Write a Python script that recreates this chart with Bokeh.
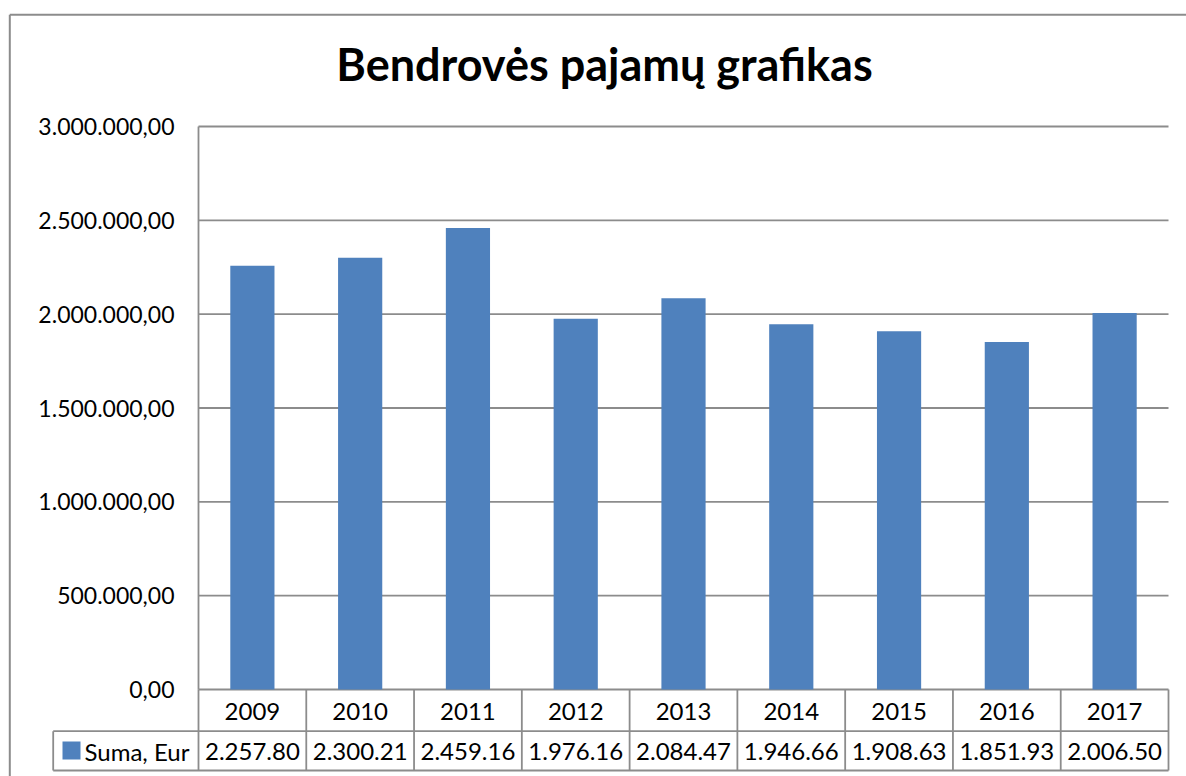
from bokeh.plotting import figure
from bokeh.models import Range1d, LinearAxis, FixedTicker
from bokeh.core.properties import value
from bokeh.embed import file_html
from bokeh.resources import INLINE

# ---------------- data ----------------
years = ["2009", "2010", "2011", "2012", "2013", "2014", "2015", "2016", "2017"]
revenue = [2257800, 2300210, 2459160, 1976160, 2084470, 1946660, 1908630, 1851930, 2006500]
y_ticks = [0, 500000, 1000000, 1500000, 2000000, 2500000, 3000000]
series_name = "Suma, Eur"
title_text = "Bendrovės pajamų grafikas"


def lt_fmt(v):
    s = f"{v:,.2f}"
    return s.replace(",", " ").replace(".", ",").replace(" ", ".")


# the data-table cells are too narrow, the source shows only the first 8 characters
table_labels = [lt_fmt(v)[:8] for v in revenue]
idx = list(range(len(years)))

# ---------------- geometry (canvas pixels) ----------------
W, H = 1186, 776
PX0, PX1 = 198, 1168          # plot area left / right
PY1, PY0 = 126, 689           # plot area top (3M) / zero line
YMAX = y_ticks[-1]
n = len(years)
cw = (PX1 - PX0) / n
ypp = YMAX / (PY0 - PY1)


def xd(c):
    return -0.5 + (c - PX0) / cw


def yd(r):
    return YMAX - (r - PY1) * ypp


x_start, x_end = xd(0), xd(W)
y_start, y_end = yd(H), yd(0)

BLUE = "#4f81bd"
GRAY = "#8c8c8c"
FONT = "Lato"
FS = "24px"

p = figure(width=W, height=H, output_backend="svg", toolbar_location=None,
           x_range=Range1d(x_start, x_end), y_range=Range1d(y_start, y_end),
           x_axis_location=None, y_axis_location=None, min_border=0,
           background_fill_color="white", border_fill_color="white")
p.outline_line_color = None
p.xgrid.visible = False
p.ygrid.visible = False

# outer chart frame (top and left visible, rest outside the window)
fx, fy = xd(9.3), yd(14.3)
p.segment(x0=[fx, fx], y0=[fy, fy], x1=[fx, x_end], y1=[y_start, fy],
          line_color=GRAY, line_width=2)

# horizontal gridlines
p.segment(x0=[-0.5] * len(y_ticks), y0=y_ticks, x1=[n - 0.5] * len(y_ticks), y1=y_ticks,
          line_color=GRAY, line_width=1.8)

# bars
p.vbar(x=idx, top=revenue, bottom=0, width=0.41, fill_color=BLUE, line_color=None)

# data table
r_mid, r_bot = 730.7, 770
y_mid, y_bot = yd(r_mid), yd(r_bot)
x_leg = xd(52.7)
vx = [-0.5] + [i + 0.5 for i in idx]
p.segment(x0=vx, y0=[0] * len(vx), x1=vx, y1=[y_bot] * len(vx), line_color=GRAY, line_width=1.8)
p.segment(x0=[-0.5], y0=[YMAX], x1=[-0.5], y1=[0], line_color=GRAY, line_width=1.8)
p.segment(x0=[x_leg, x_leg, x_leg], y0=[y_mid, y_mid, y_bot], x1=[x_leg, n - 0.5, n - 0.5],
          y1=[y_bot, y_mid, y_bot], line_color=GRAY, line_width=1.8)

y_row1 = yd((PY0 + r_mid) / 2 + 1)
y_row2 = yd((r_mid + r_bot) / 2 + 1)
p.text(x=idx, y=[y_row1] * n, text=years, text_align="center", text_baseline="middle",
       text_font=value(FONT), text_font_size=value(FS), text_color="#000000")
p.text(x=idx, y=[y_row2] * n, text=table_labels, text_align="center", text_baseline="middle",
       text_font=value(FONT), text_font_size=value(FS), text_color="#000000")

# legend key in the table
p.scatter(x=[xd(71)], y=[yd(750)], marker="square", size=18,
          fill_color=BLUE, line_color=None)
p.text(x=[xd(84)], y=[y_row2], text=[series_name], text_align="left", text_baseline="middle",
       text_font=value(FONT), text_font_size=value(FS), text_color="#000000")

# title
p.text(x=[xd(604)], y=[yd(63)], text=[title_text], text_align="center", text_baseline="middle",
       text_font=value(FONT), text_font_style="bold", text_font_size=value("45px"),
       text_color="#000000")

# value axis
yaxis = LinearAxis(fixed_location=-0.5, ticker=FixedTicker(ticks=y_ticks),
                   major_label_overrides={t: lt_fmt(t) for t in y_ticks})
yaxis.axis_line_color = None
yaxis.major_tick_line_color = None
yaxis.minor_tick_line_color = None
yaxis.major_tick_out = 0
yaxis.major_tick_in = 0
yaxis.major_label_standoff = 24
yaxis.major_label_text_font = FONT
yaxis.major_label_text_font_size = "23px"
yaxis.major_label_text_color = "#000000"
p.add_layout(yaxis, "left")

open("out.html", "w").write(file_html(p, INLINE))
